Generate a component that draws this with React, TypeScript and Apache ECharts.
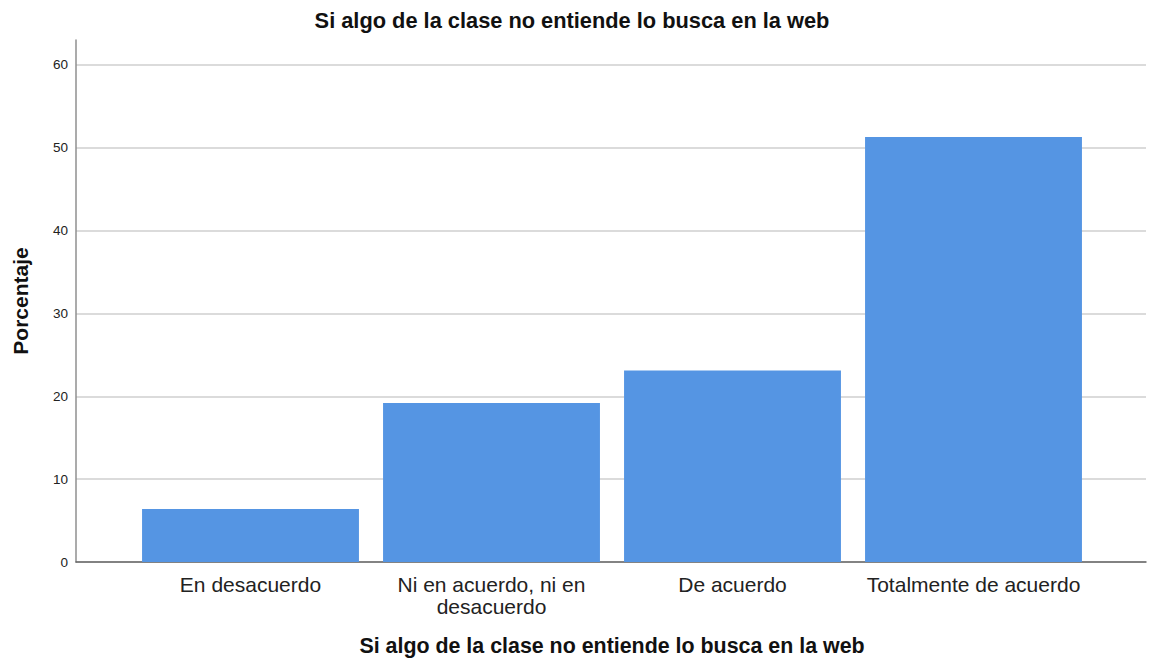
import React, { useEffect, useRef } from "react";
import * as echarts from "echarts";

const categories = [
  "En desacuerdo",
  "Ni en acuerdo, ni en\ndesacuerdo",
  "De acuerdo",
  "Totalmente de acuerdo",
];
const percentages = [6.4, 19.2, 23.1, 51.3];
const yTicks = [0, 10, 20, 30, 40, 50, 60];
const titleText = "Si algo de la clase no entiende lo busca en la web";
const yAxisTitle = "Porcentaje";

const FONT = 'Arial, "Liberation Sans", sans-serif';
const Y_MAX = 63;

export default function App() {
  const ref = useRef<HTMLDivElement>(null);
  useEffect(() => {
    document.body.style.margin = "0";
    if (!ref.current) return;
    const chart = echarts.init(ref.current, undefined, { renderer: "svg" });
    const splitColors = yTicks.map(() => "#cfcfcf").concat(["rgba(0,0,0,0)"]);
    chart.setOption({
      animation: false,
      backgroundColor: "#ffffff",
      textStyle: { fontFamily: FONT },
      graphic: [
        {
          type: "text",
          x: 572,
          y: 9,
          style: {
            text: titleText,
            font: `bold 21.8px ${FONT}`,
            fill: "#111",
            textAlign: "center",
            textVerticalAlign: "top",
          },
        },
      ],
      grid: [
        { left: 76, right: 6, top: 40, bottom: 100 },
        { left: 130, right: 58, top: 40, bottom: 100 },
      ],
      xAxis: [
        {
          type: "value",
          gridIndex: 0,
          min: 0,
          max: 1,
          axisLine: { show: true, lineStyle: { color: "#666", width: 1.5 } },
          axisTick: { show: false },
          axisLabel: { show: false },
          splitLine: { show: false },
        },
        {
          type: "category",
          gridIndex: 1,
          data: categories,
          axisLine: { show: false },
          axisTick: { show: false },
          axisLabel: {
            fontSize: 21,
            lineHeight: 22,
            color: "#222",
            margin: 11,
            fontFamily: FONT,
            interval: 0,
          },
          name: titleText,
          nameLocation: "middle",
          nameGap: 73,
          nameTextStyle: {
            fontSize: 21.4,
            fontWeight: "bold",
            color: "#111",
            fontFamily: FONT,
          },
        },
      ],
      yAxis: [
        {
          type: "value",
          gridIndex: 0,
          min: 0,
          max: Y_MAX,
          interval: 10,
          axisLine: { show: true, lineStyle: { color: "#8f8f8f", width: 1.5 } },
          axisTick: { show: false },
          axisLabel: {
            fontSize: 13.5,
            color: "#222",
            margin: 8,
            fontFamily: FONT,
            formatter: (v: number) => (yTicks.includes(v) ? String(v) : ""),
          },
          splitLine: { show: true, lineStyle: { color: splitColors, width: 1.5 } },
          name: yAxisTitle,
          nameLocation: "middle",
          nameGap: 45,
          nameTextStyle: {
            fontSize: 21,
            fontWeight: "bold",
            color: "#111",
            fontFamily: FONT,
          },
        },
        {
          type: "value",
          gridIndex: 1,
          min: 0,
          max: Y_MAX,
          show: false,
        },
      ],
      series: [
        {
          type: "bar",
          xAxisIndex: 1,
          yAxisIndex: 1,
          data: percentages,
          barCategoryGap: "10%",
          itemStyle: { color: "#5595e3" },
        },
      ],
    });
    return () => chart.dispose();
  }, []);
  return <div ref={ref} style={{ width: 1152, height: 662 }} />;
}
